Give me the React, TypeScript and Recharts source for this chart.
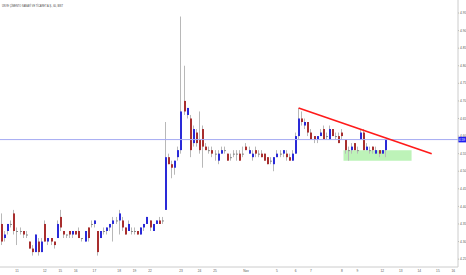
import React from 'react';
import { ComposedChart, Bar, XAxis, YAxis, ReferenceLine, ReferenceArea } from 'recharts';

const title = 'ÜNYE ÇİMENTO SANAYİ VE TİCARET A.Ş., 60, BIST';

const opens = [
  4.35, 4.31, 4.33, 4.35, 4.38, 4.33, 4.33, 4.33, 4.32, 4.30,
  4.28, 4.27, 4.30, 4.27, 4.35, 4.30, 4.31, 4.30, 4.31, 4.37,
  4.33, 4.32, 4.33, 4.32, 4.33, 4.33, 4.31, 4.30, 4.34, 4.35,
  4.35, 4.33, 4.31, 4.33, 4.33, 4.34, 4.35, 4.36, 4.36, 4.36,
  4.34, 4.33, 4.33, 4.33, 4.33, 4.32, 4.34, 4.35, 4.36, 4.33,
  4.35, 4.36, 4.36, 4.39, 4.54, 4.52, 4.51, 4.54, 4.56, 4.70,
  4.66, 4.65, 4.58, 4.61, 4.59, 4.62, 4.57, 4.56, 4.56, 4.55,
  4.53, 4.55, 4.56, 4.55, 4.54, 4.55, 4.55, 4.55, 4.55, 4.57,
  4.55, 4.54, 4.56, 4.55, 4.55, 4.55, 4.54, 4.53, 4.52, 4.54,
  4.55, 4.55, 4.55, 4.54, 4.53, 4.55, 4.60, 4.65, 4.63, 4.64,
  4.61, 4.60, 4.59, 4.60, 4.62, 4.60, 4.59, 4.62, 4.60, 4.60,
  4.61, 4.59, 4.56, 4.56, 4.58, 4.56, 4.59, 4.61, 4.56, 4.56,
  4.57, 4.55, 4.56, 4.55, 4.56,
];
const highs = [
  4.38, 4.33, 4.35, 4.36, 4.39, 4.34, 4.34, 4.33, 4.33, 4.30,
  4.29, 4.32, 4.31, 4.31, 4.36, 4.31, 4.31, 4.30, 4.36, 4.39,
  4.33, 4.32, 4.33, 4.33, 4.33, 4.34, 4.31, 4.33, 4.34, 4.36,
  4.36, 4.33, 4.33, 4.34, 4.34, 4.35, 4.37, 4.37, 4.39, 4.37,
  4.34, 4.36, 4.34, 4.34, 4.33, 4.34, 4.35, 4.37, 4.36, 4.35,
  4.36, 4.37, 4.37, 4.64, 4.55, 4.53, 4.53, 4.57, 4.94, 4.80,
  4.68, 4.66, 4.63, 4.62, 4.67, 4.63, 4.58, 4.57, 4.57, 4.56,
  4.56, 4.57, 4.57, 4.55, 4.55, 4.56, 4.56, 4.56, 4.57, 4.58,
  4.57, 4.56, 4.57, 4.56, 4.56, 4.55, 4.54, 4.54, 4.54, 4.56,
  4.56, 4.56, 4.56, 4.55, 4.56, 4.61, 4.68, 4.67, 4.65, 4.64,
  4.62, 4.60, 4.60, 4.62, 4.63, 4.61, 4.63, 4.62, 4.61, 4.61,
  4.62, 4.59, 4.57, 4.58, 4.58, 4.57, 4.62, 4.62, 4.58, 4.57,
  4.57, 4.57, 4.56, 4.56, 4.59,
];
const lows = [
  4.29, 4.30, 4.32, 4.34, 4.32, 4.29, 4.32, 4.31, 4.31, 4.28,
  4.26, 4.27, 4.26, 4.27, 4.30, 4.29, 4.29, 4.28, 4.31, 4.33,
  4.31, 4.31, 4.31, 4.31, 4.32, 4.31, 4.30, 4.30, 4.30, 4.34,
  4.34, 4.26, 4.31, 4.32, 4.32, 4.33, 4.30, 4.35, 4.32, 4.33,
  4.32, 4.33, 4.32, 4.32, 4.32, 4.32, 4.33, 4.35, 4.33, 4.33,
  4.35, 4.35, 4.35, 4.39, 4.52, 4.48, 4.49, 4.53, 4.55, 4.66,
  4.65, 4.54, 4.57, 4.57, 4.55, 4.51, 4.56, 4.55, 4.54, 4.53,
  4.52, 4.55, 4.55, 4.53, 4.53, 4.54, 4.53, 4.53, 4.54, 4.56,
  4.55, 4.53, 4.54, 4.54, 4.54, 4.53, 4.52, 4.52, 4.50, 4.54,
  4.54, 4.54, 4.53, 4.53, 4.53, 4.55, 4.59, 4.63, 4.62, 4.60,
  4.59, 4.58, 4.58, 4.60, 4.59, 4.59, 4.59, 4.60, 4.59, 4.58,
  4.59, 4.55, 4.53, 4.55, 4.56, 4.55, 4.59, 4.56, 4.56, 4.55,
  4.55, 4.55, 4.54, 4.55, 4.54,
];
const closes = [
  4.30, 4.32, 4.35, 4.35, 4.33, 4.33, 4.33, 4.32, 4.32, 4.28,
  4.27, 4.32, 4.27, 4.30, 4.30, 4.31, 4.30, 4.29, 4.35, 4.34,
  4.32, 4.32, 4.32, 4.33, 4.32, 4.31, 4.31, 4.33, 4.31, 4.35,
  4.36, 4.27, 4.33, 4.33, 4.34, 4.35, 4.36, 4.36, 4.38, 4.34,
  4.32, 4.35, 4.33, 4.33, 4.32, 4.34, 4.35, 4.37, 4.34, 4.35,
  4.36, 4.35, 4.36, 4.54, 4.52, 4.51, 4.53, 4.56, 4.67, 4.67,
  4.68, 4.56, 4.62, 4.58, 4.56, 4.57, 4.56, 4.56, 4.55, 4.55,
  4.55, 4.56, 4.56, 4.53, 4.54, 4.55, 4.55, 4.53, 4.55, 4.56,
  4.56, 4.55, 4.55, 4.55, 4.54, 4.53, 4.52, 4.53, 4.54, 4.55,
  4.55, 4.56, 4.54, 4.53, 4.55, 4.60, 4.65, 4.64, 4.64, 4.61,
  4.59, 4.59, 4.60, 4.61, 4.59, 4.60, 4.62, 4.60, 4.60, 4.58,
  4.60, 4.56, 4.56, 4.57, 4.56, 4.56, 4.61, 4.56, 4.57, 4.56,
  4.56, 4.56, 4.55, 4.56, 4.59,
];

const totalSlots = 148;
const priceDomain = [4.2276, 4.987];
const priceTicks = [4.25, 4.3, 4.35, 4.4, 4.45, 4.5, 4.55, 4.6, 4.65, 4.7, 4.75, 4.8, 4.85, 4.9, 4.95];
const timeTickBars = [5, 14, 19, 24, 30, 38, 43, 48, 58, 64, 69, 79, 89, 95, 100, 110, 115, 123, 129, 135, 141, 146];
const timeTickLabels = ['11', '12', '15', '16', '17', '18', '19', '22', '23', '24', '25', 'Nov', '5', '6', '7', '8', '9', '12', '13', '14', '15', '16'];
const lastPrice = 4.59;
const trendStart = { bar: 96, price: 4.68 };
const trendEnd = { bar: 139, price: 4.55 };
const zone = { fromBar: 111, toBar: 132, low: 4.53, high: 4.56 };

const UP = '#2a2ad8';
const DOWN = '#a82e2e';
const FLAT = '#8a8a8a';
const WICK = '#b8b8b8';
const FONT = '"Liberation Sans", Arial, sans-serif';

const data = Array.from({ length: totalSlots }, (_, i) =>
  i < opens.length
    ? { i, o: opens[i], h: highs[i], l: lows[i], c: closes[i], range: [lows[i], highs[i]] }
    : { i, range: null }
);

const Candle = (props: any) => {
  const { x, y, width, height, payload } = props;
  if (!payload || payload.o == null || height == null) return null;
  const { o, h, l, c } = payload;
  const top0 = Math.min(y, y + height);
  const hh = Math.abs(height);
  const span = h - l || 1;
  const py = (v: number) => top0 + ((h - v) / span) * hh;
  const bt = py(Math.max(o, c));
  const bb = py(Math.min(o, c));
  const color = c > o ? UP : c < o ? DOWN : FLAT;
  const rx = Math.round(x);
  return (
    <g>
      <line x1={rx + 0.5} x2={rx + 0.5} y1={top0} y2={top0 + hh} stroke={WICK} strokeWidth={1} />
      <rect x={rx} y={bt} width={2} height={Math.max(1, bb - bt)} fill={color} />
    </g>
  );
};

const PriceTag = (props: any) => {
  const vb = props.viewBox || {};
  const x = (vb.x || 0) + (vb.width || 0);
  const y = vb.y || 0;
  return (
    <g>
      <rect x={x} y={y - 2.8} width={8} height={5.6} fill="#1e1ef0" />
      <text x={x + 0.8} y={y + 1.2} fontSize={3.2} fill="#ffffff" fontFamily={FONT}>
        {lastPrice.toFixed(2)}
      </text>
    </g>
  );
};

export default function App() {
  return (
    <div style={{ position: 'absolute', left: 0, top: 0, width: 466, height: 275, background: '#fff' }}>
      <ComposedChart
        width={466}
        height={275}
        data={data}
        margin={{ top: 0, right: 0, bottom: 0, left: 0 }}
        barCategoryGap={0}
      >
        <XAxis
          dataKey="i"
          type="category"
          ticks={timeTickBars}
          interval={0}
          height={8}
          tickSize={0}
          tickMargin={3}
          tickFormatter={(v: number) => timeTickLabels[timeTickBars.indexOf(v)] ?? ''}
          tick={{ fontSize: 3.2, fill: '#555', fontFamily: FONT }}
          axisLine={{ stroke: '#cccccc' }}
        />
        <YAxis
          orientation="right"
          type="number"
          domain={priceDomain}
          allowDataOverflow
          ticks={priceTicks}
          interval={0}
          width={8}
          tickSize={1}
          tickMargin={1}
          tickFormatter={(v: number) => v.toFixed(2)}
          tick={{ fontSize: 3.2, fill: '#555', fontFamily: FONT, textAnchor: 'start' }}
          tickLine={{ stroke: '#bbb' }}
          axisLine={{ stroke: '#cccccc' }}
        />
        <ReferenceArea
          x1={zone.fromBar}
          x2={zone.toBar}
          y1={zone.low}
          y2={zone.high}
          fill="#bdf3b8"
          fillOpacity={1}
          stroke="none"
          ifOverflow="visible"
        />
        <ReferenceLine y={lastPrice} stroke="#a4aaf2" strokeWidth={1} label={<PriceTag />} ifOverflow="visible" />
        <Bar dataKey="range" barSize={2} shape={<Candle />} isAnimationActive={false} />
        <ReferenceLine
          segment={[
            { x: trendStart.bar, y: trendStart.price },
            { x: trendEnd.bar, y: trendEnd.price },
          ]}
          stroke="#ff1a1a"
          strokeWidth={1.6}
          ifOverflow="visible"
        />
      </ComposedChart>
      <svg width={466} height={12} style={{ position: 'absolute', left: 0, top: 0, pointerEvents: 'none' }}>
        <text x={2} y={7} fontSize={3.6} fill="#444" fontFamily={FONT} textLength={61} lengthAdjust="spacingAndGlyphs">
          {title}
        </text>
      </svg>
    </div>
  );
}
